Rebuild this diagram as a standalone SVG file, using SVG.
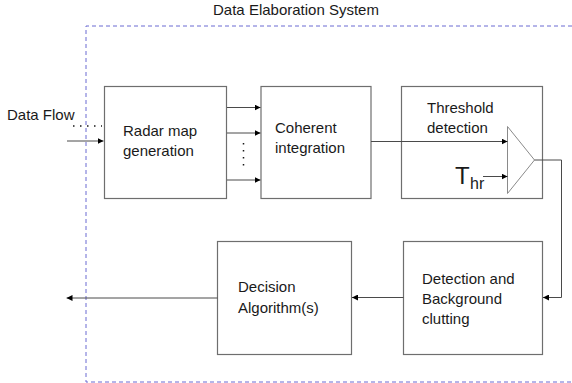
<svg xmlns="http://www.w3.org/2000/svg" width="572" height="383" viewBox="0 0 572 383">
  <defs>
    <style>
      text { font-family: "Liberation Sans", Arial, sans-serif; font-size: 15px; fill: #1a1a1a; }
      .box { fill: #ffffff; stroke: #6e6e6e; stroke-width: 1.2; }
      .wire { fill: none; stroke: #4a4a4a; stroke-width: 1; }
      .frame { fill: none; stroke: #6a6ad2; stroke-width: 1; stroke-dasharray: 4 3; }
      .dots { fill: none; stroke: #1a1a1a; stroke-width: 1.5; stroke-dasharray: 1.5 5.5; }
    </style>
    <marker id="arrow" viewBox="0 0 10 10" refX="10" refY="5" markerWidth="6" markerHeight="6" markerUnits="userSpaceOnUse" orient="auto">
      <path d="M0,0 L10,5 L0,10 z" fill="#000000"/>
    </marker>
  </defs>
  <rect width="572" height="383" fill="#ffffff"/>

  <!-- system boundary -->
  <g id="system">
    <path class="frame" d="M572,26 H86 V382 H572"/>
    <text x="296" y="15" text-anchor="middle">Data Elaboration System</text>
  </g>

  <g id="data-flow">
    <text x="7" y="120">Data Flow</text>
    <line class="dots" x1="73" y1="126" x2="102" y2="126"/>
  </g>

  <g id="radar-map">
    <rect class="box" x="104.5" y="86.5" width="122" height="112"/>
    <text x="123" y="136">Radar map</text>
    <text x="123" y="156">generation</text>
  </g>

  <g id="coherent">
    <rect class="box" x="261" y="86.5" width="110" height="112"/>
    <text x="275" y="133">Coherent</text>
    <text x="275" y="153">integration</text>
  </g>

  <g id="threshold">
    <rect class="box" x="401.5" y="86.5" width="141" height="112"/>
    <text x="427" y="113">Threshold</text>
    <text x="427" y="133">detection</text>
    <path d="M507.5,126.5 L534.5,160 L507.5,193.5 z" fill="#ffffff" stroke="#8a8a8a" stroke-width="1"/>
    <text x="455" y="184" style="font-size:24px">T</text>
    <text x="470" y="189" style="font-size:16px">hr</text>
  </g>

  <g id="detection">
    <rect class="box" x="403.5" y="241.5" width="139" height="113"/>
    <text x="422" y="284">Detection and</text>
    <text x="422" y="304">Background</text>
    <text x="422" y="324">clutting</text>
  </g>

  <g id="decision">
    <rect class="box" x="217.5" y="241.5" width="134" height="113"/>
    <text x="238" y="292">Decision</text>
    <text x="238" y="313">Algorithm(s)</text>
  </g>

  <g id="connectors">
    <line class="wire" x1="67" y1="141" x2="103.5" y2="141" marker-end="url(#arrow)"/>
    <line class="wire" x1="227" y1="107.5" x2="260.5" y2="107.5" marker-end="url(#arrow)"/>
    <line class="wire" x1="227" y1="133" x2="260.5" y2="133" marker-end="url(#arrow)"/>
    <line class="wire" x1="227" y1="180" x2="260.5" y2="180" marker-end="url(#arrow)"/>
    <line class="dots" x1="243.5" y1="143" x2="243.5" y2="170"/>
    <line class="wire" x1="371" y1="141.5" x2="507.5" y2="141.5" marker-end="url(#arrow)"/>
    <line class="wire" x1="483" y1="176.5" x2="507.5" y2="176.5" marker-end="url(#arrow)"/>
    <path class="wire" d="M534.5,160 H561.5 V297.5 H543" marker-end="url(#arrow)"/>
    <line class="wire" x1="403.5" y1="297.5" x2="352" y2="297.5" marker-end="url(#arrow)"/>
    <line class="wire" x1="217.5" y1="298" x2="66.5" y2="298" marker-end="url(#arrow)"/>
  </g>
</svg>
